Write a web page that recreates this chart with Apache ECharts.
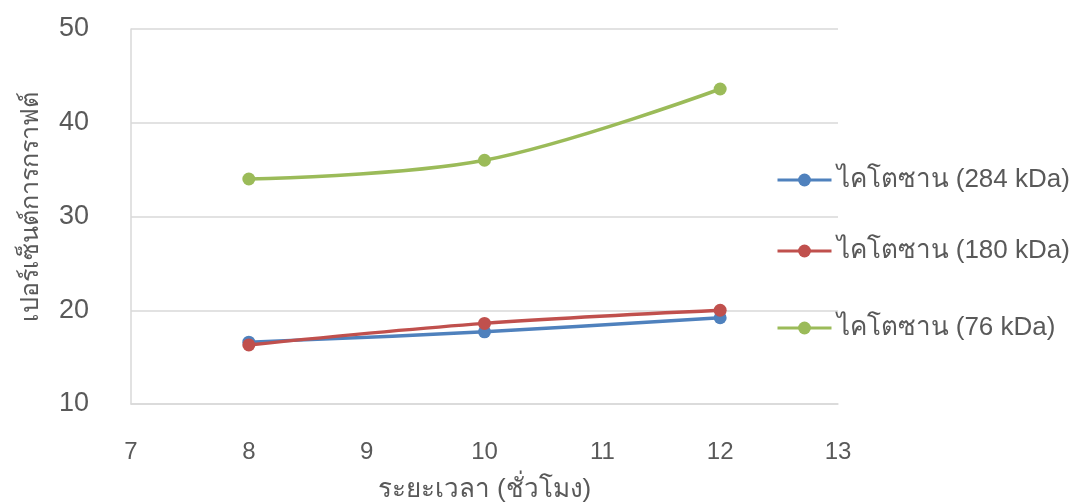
<!DOCTYPE html>
<html>
<head>
<meta charset="utf-8">
<style>
  html, body { margin: 0; padding: 0; background: #fff; }
  #chart { width: 1072px; height: 504px; }
</style>
<script src="https://cdn.jsdelivr.net/npm/echarts@6/dist/echarts.min.js"></script>
</head>
<body>
<div id="chart"></div>
<script>
// Reaction time (hours) on the x axis
const hours = [8, 10, 12];

// Grafting percentage for each chitosan molecular weight
const seriesNames = ['ไคโตซาน (284 kDa)', 'ไคโตซาน (180 kDa)', 'ไคโตซาน (76 kDa)'];
const chitosan284 = [16.6, 17.7, 19.2];
const chitosan180 = [16.3, 18.6, 20.0];
const chitosan76 = [34.0, 36.0, 43.6];

const colors = ['#4F81BD', '#C0504D', '#9BBB59'];
const values = [chitosan284, chitosan180, chitosan76];

const textColor = '#595959';
const gridColor = '#D9D9D9';
const font = "'Liberation Sans', 'Noto Sans', sans-serif";

const chart = echarts.init(document.getElementById('chart'), null, { renderer: 'canvas' });

// one legend block per series, stacked on the right
const legendTops = [167, 238, 315];

chart.setOption({
  animation: false,
  grid: { left: 131, right: 234, top: 29, bottom: 100, containLabel: false, outerBoundsMode: 'none' },
  xAxis: {
    type: 'value',
    min: 7, max: 13, interval: 1,
    name: 'ระยะเวลา (ชั่วโมง)',
    nameLocation: 'middle',
    nameGap: 73,
    nameTextStyle: { color: textColor, fontSize: 26, fontFamily: font },
    axisLine: { show: true, onZero: false, lineStyle: { color: gridColor, width: 1.5 } },
    axisTick: { show: false },
    splitLine: { show: false },
    axisLabel: { color: textColor, fontSize: 24, margin: 36, fontFamily: font }
  },
  yAxis: {
    type: 'value',
    min: 10, max: 50, interval: 10,
    name: 'เปอร์เซ็นต์การกราฟต์',
    nameLocation: 'middle',
    nameGap: 87,
    nameTextStyle: { color: textColor, fontSize: 25, fontFamily: font, padding: [0, 0, 0, 20] },
    axisLine: { show: true, lineStyle: { color: gridColor, width: 1.5 } },
    axisTick: { show: false },
    splitLine: { show: true, lineStyle: { color: gridColor, width: 1.5 } },
    axisLabel: { color: textColor, fontSize: 27, margin: 42, fontFamily: font }
  },
  legend: seriesNames.map((name, i) => ({
    data: [name],
    orient: 'vertical',
    left: 776,
    top: legendTops[i],
    itemWidth: 54,
    itemHeight: 16,
    itemGap: 0,
    padding: 0,
    lineStyle: { width: 3 },
    textStyle: { color: textColor, fontSize: 26, fontFamily: font }
  })),
  series: seriesNames.map((name, i) => ({
    name: name,
    type: 'line',
    smooth: 0.35,
    data: hours.map((h, j) => [h, values[i][j]]),
    symbol: 'circle',
    symbolSize: 13,
    lineStyle: { color: colors[i], width: 3.5 },
    itemStyle: { color: colors[i] },
    z: 2 + i
  }))
});
</script>
</body>
</html>
